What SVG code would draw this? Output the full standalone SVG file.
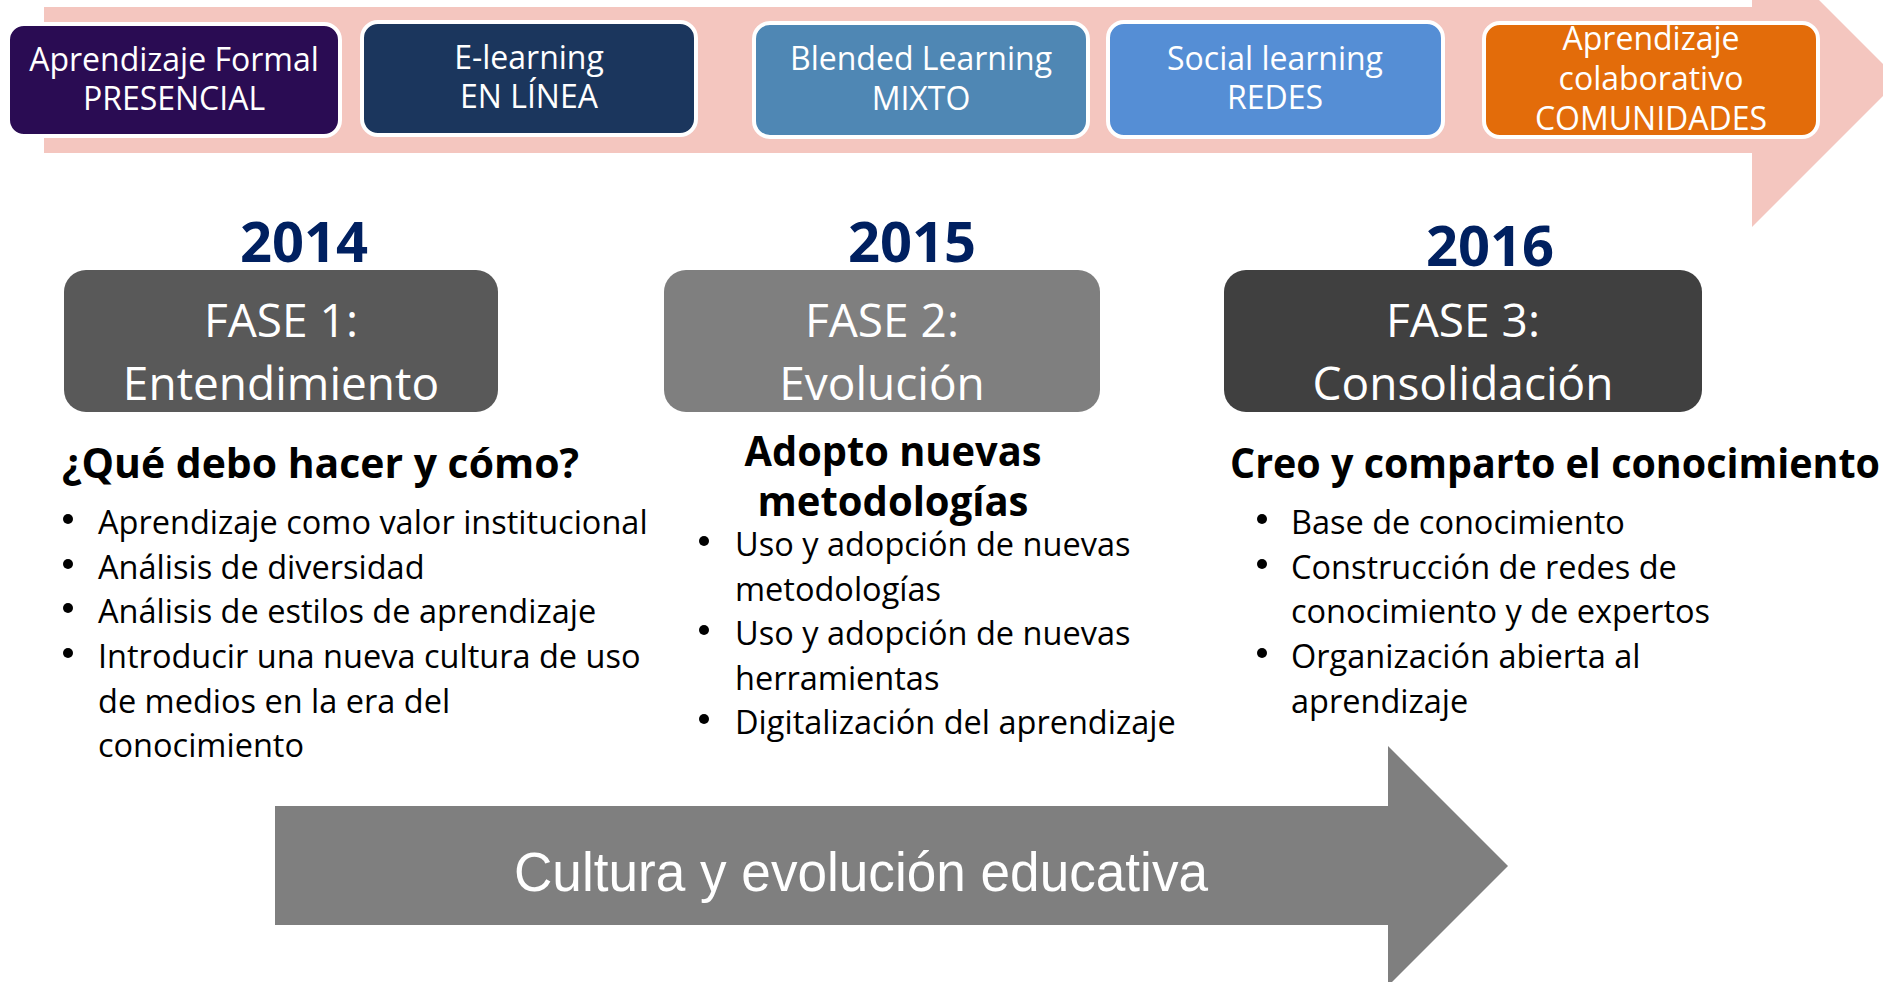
<svg xmlns="http://www.w3.org/2000/svg" width="1883" height="982" viewBox="0 0 1883 982">
<style>
.lbl{font-family:"Open Sans","Liberation Sans",sans-serif;font-size:32px;fill:#fff;text-anchor:middle}
.yr{font-family:"Open Sans","Liberation Sans",sans-serif;font-size:56px;font-weight:bold;fill:#002060;text-anchor:middle}
.ph{font-family:"Open Sans","Liberation Sans",sans-serif;font-size:46px;fill:#fff;text-anchor:middle}
.hd{font-family:"Open Sans","Liberation Sans",sans-serif;font-size:41px;font-weight:bold;fill:#000}
.bl{font-family:"Open Sans","Liberation Sans",sans-serif;font-size:32.5px;fill:#000}
.top{stroke:#fff;stroke-width:4}
.dot{fill:#000}
</style>
<rect width="1883" height="982" fill="#fff"/>
<g id="connectors">
<polygon id="top-arrow" points="44,7 1752,7 1752,-67 1899,80 1752,227 1752,153 44,153" fill="#F4C6BF"/>
<polygon id="bottom-arrow" points="275,806 1388,806 1388,746 1508,866 1388,986 1388,925 275,925" fill="#7F7F7F"/>
</g>
<g id="cultura-label">
<text x="861" y="891" font-family="'Liberation Sans',Arial,sans-serif" font-size="55" fill="#fff" text-anchor="middle" textLength="694" lengthAdjust="spacingAndGlyphs">Cultura y evolución educativa</text>
</g>
<g id="presencial">
<rect class="top" x="8" y="24" width="332" height="112" rx="16" fill="#2A0C53"/>
<text class="lbl" x="174" y="71">Aprendizaje Formal</text>
<text class="lbl" x="174" y="110">PRESENCIAL</text>
</g>
<g id="enlinea">
<rect class="top" x="362" y="22" width="334" height="113" rx="16" fill="#1B365D"/>
<text class="lbl" x="529" y="69">E-learning</text>
<text class="lbl" x="529" y="108">EN LÍNEA</text>
</g>
<g id="mixto">
<rect class="top" x="754" y="23" width="334" height="114" rx="16" fill="#4F87B4"/>
<text class="lbl" x="921" y="70">Blended Learning</text>
<text class="lbl" x="921" y="110">MIXTO</text>
</g>
<g id="redes">
<rect class="top" x="1108" y="22" width="335" height="115" rx="16" fill="#558ED5"/>
<text class="lbl" x="1275" y="70">Social learning</text>
<text class="lbl" x="1275" y="109">REDES</text>
</g>
<g id="comunidades">
<rect class="top" x="1484" y="23" width="334" height="114" rx="16" fill="#E36C0A"/>
<text class="lbl" x="1651" y="50">Aprendizaje</text>
<text class="lbl" x="1651" y="90">colaborativo</text>
<text class="lbl" x="1651" y="130">COMUNIDADES</text>
</g>
<g id="fase1">
<text class="yr" x="304" y="262">2014</text>
<rect x="64" y="270" width="434" height="142" rx="22" fill="#595959"/>
<text class="ph" x="281" y="337">FASE 1:</text>
<text class="ph" x="281" y="400">Entendimiento</text>
<text class="hd" x="62" y="478" textLength="517" lengthAdjust="spacingAndGlyphs">¿Qué debo hacer y cómo?</text>
<circle class="dot" cx="68" cy="519" r="5"/>
<text class="bl" x="98" y="534">Aprendizaje como valor institucional</text>
<circle class="dot" cx="68" cy="564" r="5"/>
<text class="bl" x="98" y="579">Análisis de diversidad</text>
<circle class="dot" cx="68" cy="608" r="5"/>
<text class="bl" x="98" y="623">Análisis de estilos de aprendizaje</text>
<circle class="dot" cx="68" cy="653" r="5"/>
<text class="bl" x="98" y="668">Introducir una nueva cultura de uso</text>
<text class="bl" x="98" y="713">de medios en la era del</text>
<text class="bl" x="98" y="757">conocimiento</text>
</g>
<g id="fase2">
<text class="yr" x="912" y="262">2015</text>
<rect x="664" y="270" width="436" height="142" rx="22" fill="#7F7F7F"/>
<text class="ph" x="882" y="337">FASE 2:</text>
<text class="ph" x="882" y="400">Evolución</text>
<text class="hd" x="893" y="466" text-anchor="middle" textLength="297" lengthAdjust="spacingAndGlyphs">Adopto nuevas</text>
<text class="hd" x="893" y="516" text-anchor="middle" textLength="271" lengthAdjust="spacingAndGlyphs">metodologías</text>
<circle class="dot" cx="704" cy="541" r="5"/>
<text class="bl" x="735" y="556">Uso y adopción de nuevas</text>
<text class="bl" x="735" y="601">metodologías</text>
<circle class="dot" cx="704" cy="630" r="5"/>
<text class="bl" x="735" y="645">Uso y adopción de nuevas</text>
<text class="bl" x="735" y="690">herramientas</text>
<circle class="dot" cx="704" cy="719" r="5"/>
<text class="bl" x="735" y="734">Digitalización del aprendizaje</text>
</g>
<g id="fase3">
<text class="yr" x="1490" y="266">2016</text>
<rect x="1224" y="270" width="478" height="142" rx="22" fill="#404040"/>
<text class="ph" x="1463" y="337">FASE 3:</text>
<text class="ph" x="1463" y="400">Consolidación</text>
<text class="hd" x="1230" y="478" textLength="650" lengthAdjust="spacingAndGlyphs">Creo y comparto el conocimiento</text>
<circle class="dot" cx="1262" cy="519" r="5"/>
<text class="bl" x="1291" y="534">Base de conocimiento</text>
<circle class="dot" cx="1262" cy="564" r="5"/>
<text class="bl" x="1291" y="579">Construcción de redes de</text>
<text class="bl" x="1291" y="623">conocimiento y de expertos</text>
<circle class="dot" cx="1262" cy="653" r="5"/>
<text class="bl" x="1291" y="668">Organización abierta al</text>
<text class="bl" x="1291" y="713">aprendizaje</text>
</g>
</svg>
